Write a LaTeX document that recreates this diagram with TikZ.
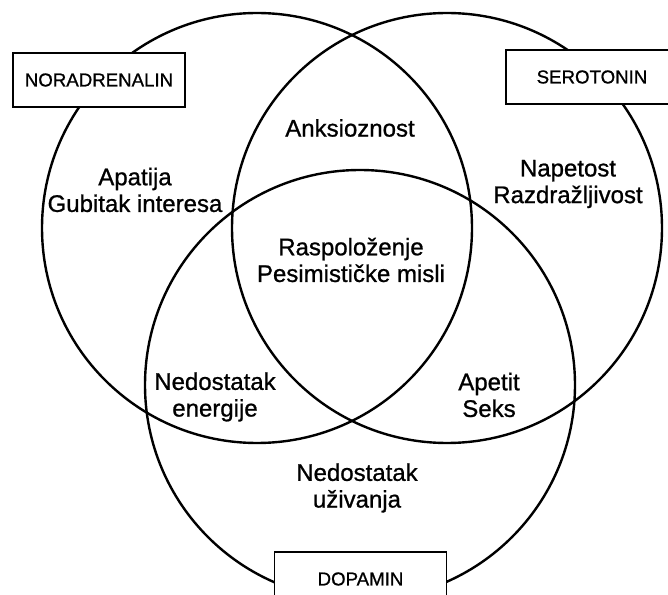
\documentclass[tikz,border=0pt]{standalone}
\usepackage{fontspec}
\setmainfont{Liberation Sans}[BoldFont=Liberation Sans,BoldFeatures={FakeBold=0.9}]
\tikzset{
  krug/.style={line width=1.8pt},
  kutija/.style={draw,fill=white,line width=1.2pt,minimum width=129pt,minimum height=40.5pt,inner sep=0pt,font=\fontsize{14}{16}\selectfont\bfseries},
  opis/.style={align=center,inner sep=0pt,font=\fontsize{18}{20}\selectfont\bfseries}
}
\begin{document}
\begin{tikzpicture}[x=0.75pt,y=-0.75pt]
      \useasboundingbox (0,0) rectangle (668,595);
      \clip (0,0) rectangle (668,595);
      \coordinate (cn) at (257,228);
      \coordinate (cs) at (447,228);
      \coordinate (cd) at (360,385);
      \draw[krug] (cn) circle (215);
      \draw[krug] (cs) circle (215);
      \draw[krug] (cd) circle (215);
      \begin{scope}[every node/.style=kutija]
        \node (nor) at (99,80) {NORADRENALIN};
        \node (ser) at (592,77) {SEROTONIN};
        \node (dop) at (360.5,579) {DOPAMIN};
      \end{scope}
      \begin{scope}[every node/.style=opis]
        \node (anks) at (350,128) {Anksioznost};
        \node (apat) at (135,190) {Apatija\\Gubitak interesa};
        \node (nap) at (568,184) {Napetost\\Razdražljivost};
        \node (rasp) at (351,260) {Raspoloženje\\Pesimističke misli};
        \node (ener) at (215,397) {Nedostatak\\energije};
        \node (apet) at (489,395) {Apetit\\Seks};
        \node (uziv) at (357,488) {Nedostatak\\uživanja};
      \end{scope}
    \end{tikzpicture}
\end{document}
